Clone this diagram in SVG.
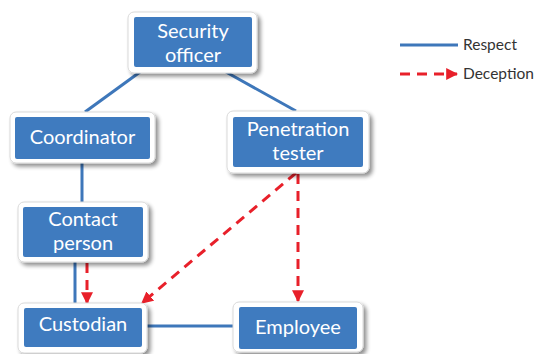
<svg xmlns="http://www.w3.org/2000/svg" width="542" height="354" viewBox="0 0 542 354">
  <style>
    .frame { fill: #ffffff; stroke: #d9d9d9; stroke-width: 1; filter: url(#shadow); }
    .box { fill: #3f7bbf; }
    .label { font-family: Lato, "Open Sans", sans-serif; font-size: 20px; fill: #ffffff; text-anchor: middle; }
    .respect { stroke: #3e77ba; stroke-width: 3; fill: none; }
    .deception { stroke: #e8202a; stroke-width: 3; fill: none; stroke-dasharray: 10 7; }
    .legend { font-family: Lato, "Open Sans", sans-serif; font-size: 15.5px; fill: #333333; }
  </style>
  <defs>
    <filter id="shadow" x="-20%" y="-20%" width="150%" height="160%">
      <feGaussianBlur in="SourceAlpha" stdDeviation="2"/>
      <feOffset dx="3" dy="3" result="b"/>
      <feComponentTransfer><feFuncA type="linear" slope="0.45"/></feComponentTransfer>
      <feMerge><feMergeNode/><feMergeNode in="SourceGraphic"/></feMerge>
    </filter>
    <marker id="arrow" viewBox="0 0 10 10" refX="9" refY="5" markerWidth="4" markerHeight="4" markerUnits="strokeWidth" orient="auto">
      <path d="M0,0 L10,5 L0,10 z" fill="#e8202a"/>
    </marker>
  </defs>

  <!-- connectors -->
  <g id="connectors">
    <line class="respect" x1="140" y1="72" x2="85" y2="112"/>
    <line class="respect" x1="226" y1="72" x2="296" y2="111"/>
    <line class="respect" x1="82" y1="163" x2="82" y2="202"/>
    <line class="respect" x1="75" y1="262" x2="75" y2="303"/>
    <line class="respect" x1="147" y1="326" x2="233" y2="326"/>
    <line class="deception" x1="87" y1="263" x2="87" y2="303" marker-end="url(#arrow)"/>
    <line class="deception" x1="296" y1="173" x2="142" y2="303" marker-end="url(#arrow)"/>
    <line class="deception" x1="298" y1="174" x2="298" y2="301" marker-end="url(#arrow)"/>
  </g>

  <g id="security-officer">
    <rect class="frame" x="128" y="12" width="129" height="61" rx="6"/>
    <rect class="box" x="134" y="17" width="118" height="50" rx="2"/>
    <text class="label" x="193" y="38">Security</text>
    <text class="label" x="193" y="62">officer</text>
  </g>

  <g id="coordinator">
    <rect class="frame" x="10" y="112" width="145" height="51" rx="6"/>
    <rect class="box" x="15" y="117" width="135" height="42" rx="2"/>
    <text class="label" x="82.5" y="144">Coordinator</text>
  </g>

  <g id="penetration-tester">
    <rect class="frame" x="227" y="111" width="142" height="62" rx="6"/>
    <rect class="box" x="233" y="117" width="130" height="50" rx="2"/>
    <text class="label" x="298" y="136">Penetration</text>
    <text class="label" x="298" y="160">tester</text>
  </g>

  <g id="contact-person">
    <rect class="frame" x="18" y="202" width="130" height="60" rx="6"/>
    <rect class="box" x="23" y="207" width="120" height="50" rx="2"/>
    <text class="label" x="83" y="226">Contact</text>
    <text class="label" x="83" y="250">person</text>
  </g>

  <g id="custodian">
    <rect class="frame" x="18" y="303" width="129" height="50" rx="6"/>
    <rect class="box" x="24" y="308" width="118" height="39" rx="2"/>
    <text class="label" x="83" y="331">Custodian</text>
  </g>

  <g id="employee">
    <rect class="frame" x="233" y="302" width="130" height="50" rx="6"/>
    <rect class="box" x="239" y="307" width="118" height="42" rx="2"/>
    <text class="label" x="298" y="334">Employee</text>
  </g>

  <g id="legend">
    <line class="respect" x1="400" y1="45" x2="458" y2="45"/>
    <text class="legend" x="463" y="50">Respect</text>
    <line class="deception" x1="400" y1="74" x2="457" y2="74" marker-end="url(#arrow)"/>
    <text class="legend" x="463" y="79">Deception</text>
  </g>
</svg>
